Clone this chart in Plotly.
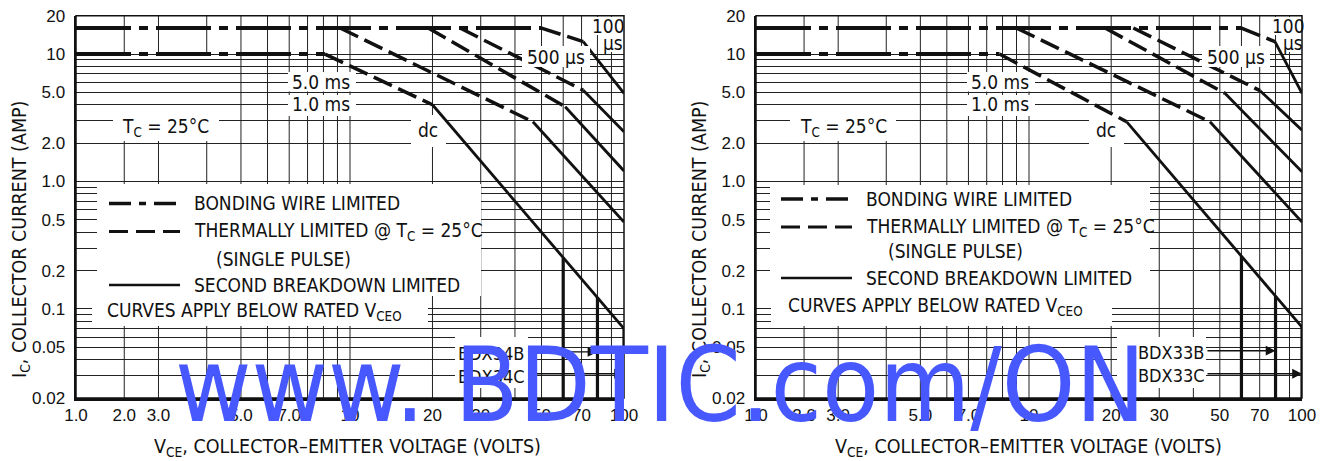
import math
import plotly.graph_objects as go

# ------------------------------------------------------------------ data
# V_CE in volts, I_C in amps.  Curve order: dc, 5.0 ms, 1.0 ms, 500 us, 100 us
CURVE_LABELS = ["dc", "5.0 ms", "1.0 ms", "500 µs", "100 µs"]

# Left chart (BDX34B / BDX34C)
L_BOND_V = [[1.0, 8.1], [1.0, 50.0]]
L_BOND_I = [[10.0, 10.0], [16.0, 16.0]]
L_THERM_V = [[8.1, 20.0], [9.2, 46.5], [19.3, 61.0], [25.2, 71.0], [50.0, 71.0]]
L_THERM_I = [[10.0, 4.0], [16.0, 2.94], [16.0, 3.86], [16.0, 5.2], [16.0, 12.5]]
L_SB_V = [[20.0, 100.0], [46.5, 100.0], [61.0, 100.0], [71.0, 100.0], [71.0, 100.0]]
L_SB_I = [[4.0, 0.07], [2.94, 0.48], [3.86, 1.21], [5.2, 2.46], [12.5, 4.92]]
L_VCEO_V = [60.0, 80.0, 100.0]
L_VCEO_TOP = [0.25, 0.124, 0.07]

# Right chart (BDX33B / BDX33C)
R_BOND_V = [[1.0, 7.8], [1.0, 60.0]]
R_BOND_I = [[10.0, 10.0], [16.0, 16.0]]
R_THERM_V = [[7.8, 22.8], [9.0, 46.0], [19.0, 52.2], [24.1, 70.2], [60.0, 79.6]]
R_THERM_I = [[10.0, 2.94], [16.0, 2.94], [16.0, 4.92], [16.0, 5.16], [16.0, 12.5]]
R_SB_V = [[22.8, 100.0], [46.0, 100.0], [52.2, 100.0], [70.2, 100.0], [79.6, 100.0]]
R_SB_I = [[2.94, 0.072], [2.94, 0.48], [4.92, 1.19], [5.16, 2.53], [12.5, 4.92]]
R_VCEO_V = [60.0, 80.0, 100.0]
R_VCEO_TOP = [0.26, 0.126, 0.072]
VCEO_FLOOR = 0.02

L_PARTS = ["BDX34B", "BDX34C"]
R_PARTS = ["BDX33B", "BDX33C"]
PART_VCEO = [80.0, 100.0]
L_PART_ARROW_I = [0.046, 0.031]
R_PART_ARROW_I = [0.047, 0.031]

X_TICK_VALS = [1, 1.5, 2, 4, 6, 10, 20, 30, 50, 70, 100]
X_TICK_TEXT = ["1.0", "2.0", "3.0", "5.0", "7.0", "10", "20", "30", "50", "70", "100"]
X_GRID = [1.5, 2, 3, 4, 5, 6, 7, 8, 9, 10, 20, 30, 40, 50, 60, 70, 80, 90]
X_GRID_BROKEN = [1.5, 2, 3]          # these stop between ~2.5 A and 10 A
Y_TICK_VALS = [0.02, 0.05, 0.1, 0.2, 0.5, 1, 2, 5, 10, 20]
Y_TICK_TEXT = ["0.02", "0.05", "0.1", "0.2", "0.5", "1.0", "2.0", "5.0", "10", "20"]
Y_GRID_MINOR = [0.03, 0.04, 0.06, 0.07, 0.08, 0.09, 0.3, 0.4, 0.6, 0.7, 0.8, 0.9,
                3, 4, 6, 7, 8, 9]

# ------------------------------------------------------------------ geometry / style
W, H = 1327, 461
PLOT_X = {1: (76.0, 624.0), 2: (756.0, 1302.0)}
PLOT_Y = (15.7, 398.0)
Y_LOG_MIN, Y_DECADES = math.log10(0.02), 3.0

BLACK = "#111111"
GRID = "#222222"
WM_BLUE = "#4758ff"
TEXT_FONT = "DejaVu Sans Condensed, Liberation Sans Narrow, Arial Narrow, sans-serif"
TICK_FONT = "Liberation Sans, Arial, Helvetica, sans-serif"

DASHDOT = "55px,8px,9px,8px"
DASHED = "20px,7px"


def paper_x(x):
    return x / W


def paper_y(y):
    return 1 - y / H


def dom_x(x, k):
    a, b = PLOT_X[k]
    return (x - a) / (b - a)


def dom_y(y):
    return (PLOT_Y[1] - y) / (PLOT_Y[1] - PLOT_Y[0])


def data_x(x, k):
    return 10 ** (2.0 * dom_x(x, k))


def data_y(y):
    return 10 ** (Y_LOG_MIN + Y_DECADES * dom_y(y))


def x_px(v, k):
    a, b = PLOT_X[k]
    return a + (b - a) * math.log10(v) / 2.0


fig = go.Figure()

panels = [
    (1, L_BOND_V, L_BOND_I, L_THERM_V, L_THERM_I, L_SB_V, L_SB_I, L_VCEO_V, L_VCEO_TOP),
    (2, R_BOND_V, R_BOND_I, R_THERM_V, R_THERM_I, R_SB_V, R_SB_I, R_VCEO_V, R_VCEO_TOP),
]

for k, bv, bi, tv, ti, sv, si, vv, vt in panels:
    xa = "x" if k == 1 else "x2"
    ya = "y" if k == 1 else "y2"
    common = dict(mode="lines", xaxis=xa, yaxis=ya, hoverinfo="skip", showlegend=False)
    for v, i in zip(bv, bi):
        fig.add_trace(go.Scatter(x=v, y=i, line=dict(color=BLACK, width=4, dash=DASHDOT), **common))
    for v, i in zip(tv, ti):
        fig.add_trace(go.Scatter(x=v, y=i, line=dict(color=BLACK, width=3.5, dash=DASHED), **common))
    for v, i in zip(sv, si):
        fig.add_trace(go.Scatter(x=v, y=i, line=dict(color=BLACK, width=2.8), **common))
    for v, top in zip(vv, vt):
        fig.add_trace(go.Scatter(x=[v, v], y=[top, VCEO_FLOOR],
                                 line=dict(color=BLACK, width=3.2), **common))


def xaxis_cfg(k):
    a, b = PLOT_X[k]
    return dict(
        type="log", range=[0, 2], domain=[a / W, b / W], anchor="y" if k == 1 else "y2",
        tickmode="array", tickvals=X_TICK_VALS, ticktext=X_TICK_TEXT,
        showgrid=False,
        showline=True, linecolor=BLACK, linewidth=2.5, mirror=False,
        ticks="", tickfont=dict(family=TICK_FONT, size=17, color=BLACK),
        ticklabelstandoff=0, zeroline=False, automargin=False, fixedrange=True,
    )


def yaxis_cfg(k):
    return dict(
        type="log", range=[Y_LOG_MIN, Y_LOG_MIN + Y_DECADES],
        domain=[1 - PLOT_Y[1] / H, 1 - PLOT_Y[0] / H], anchor="x" if k == 1 else "x2",
        tickmode="array", tickvals=Y_TICK_VALS, ticktext=Y_TICK_TEXT,
        showgrid=True, gridcolor=GRID, gridwidth=1,
        minor=dict(tickmode="array", tickvals=Y_GRID_MINOR, showgrid=True,
                   gridcolor=GRID, gridwidth=1, ticks=""),
        showline=True, linecolor=BLACK, linewidth=2.5, mirror=False,
        ticks="", tickfont=dict(family=TICK_FONT, size=17, color=BLACK),
        ticklabelstandoff=5, zeroline=False, automargin=False, fixedrange=True,
    )


shapes = []
annotations = []

# vertical grid lines (drawn as shapes so that the datasheet's broken lines can be kept)
for k in (1, 2):
    xr = "x" if k == 1 else "x2"
    yr = "y" if k == 1 else "y2"
    for v in X_GRID:
        segs = [(0.02, 2.5), (10, 20)] if v in X_GRID_BROKEN else [(0.02, 20)]
        for y0, y1 in segs:
            shapes.append(dict(type="line", xref=xr, yref=yr, layer="between",
                               x0=v, x1=v, y0=y0, y1=y1, line=dict(color=GRID, width=1)))

# white label / legend boxes (pixel rectangles: x0, y0, x1, y1), per panel
BOXES = {
    1: [(97, 184, 481, 296), (92, 296, 428, 326), (113, 117, 219, 141),
        (288, 72, 356, 91.5), (288, 95, 356, 116), (411, 115, 446, 147),
        (455, 337, 528, 388), (591, 17, 623, 35), (601, 35, 623, 52)],
    2: [(770, 185, 1150, 288), (771, 288, 1112, 326), (790, 117, 896, 141),
        (967, 72, 1035, 91.5), (967, 95, 1035, 116), (1089, 115, 1124, 147),
        (1117, 337, 1206, 388), (1275, 17, 1301, 35), (1282, 35, 1301, 52)],
}
BOX_ABOVE = {1: (522, 46, 590, 67), 2: (1202, 46, 1270, 67)}

for k in (1, 2):
    xr = "x" if k == 1 else "x2"
    yr = "y" if k == 1 else "y2"
    for (x0, y0, x1, y1) in BOXES[k]:
        shapes.append(dict(type="rect", xref=xr, yref=yr, layer="between",
                           x0=data_x(x0, k), x1=data_x(x1, k), y0=data_y(y1), y1=data_y(y0),
                           fillcolor="white", line=dict(width=0)))
    x0, y0, x1, y1 = BOX_ABOVE[k]
    shapes.append(dict(type="rect", xref=xr, yref=yr, layer="above",
                       x0=data_x(x0, k), x1=data_x(x1, k), y0=data_y(y1), y1=data_y(y0),
                       fillcolor="white", line=dict(width=0)))
    # thin top / right frame
    a, b = PLOT_X[k]
    shapes.append(dict(type="rect", xref="paper", yref="paper", layer="above",
                       x0=paper_x(a), x1=paper_x(b), y0=paper_y(PLOT_Y[1]), y1=paper_y(PLOT_Y[0]),
                       line=dict(color=BLACK, width=1.5), fillcolor="rgba(0,0,0,0)"))


def text(t, x, y, size=19, xanchor="center", family=TEXT_FONT, color=BLACK, angle=0):
    annotations.append(dict(text=t, x=paper_x(x), y=paper_y(y), xref="paper", yref="paper",
                            xanchor=xanchor, yanchor="middle", showarrow=False,
                            textangle=angle, font=dict(family=family, size=size, color=color)))


LEGEND_TEXT = ["BONDING WIRE LIMITED", "THERMALLY LIMITED @ T<sub>C</sub> = 25°C",
               "(SINGLE PULSE)", "SECOND BREAKDOWN LIMITED",
               "CURVES APPLY BELOW RATED V<sub>CEO</sub>"]

layout_pos = {
    1: dict(legend_x=[192, 192, 214, 192, 105], legend_y=[203.5, 231.5, 258.5, 285, 311.5],
            sample_x=(109, 180), sample_y=[203.5, 231.5, 285],
            tc=(165, 128), ms5=(321, 82), ms1=(321, 104.5), dc=(428, 130),
            us500=(556, 57), us100=(608, 26.5), us=(613, 43.5),
            part_x=491, part_y=[353, 376], arrow_tail=530,
            ytitle=(21, 240), xtitle=(347, 447)),
    2: dict(legend_x=[864, 864, 886, 864, 786], legend_y=[199, 227, 251.5, 278, 306],
            sample_x=(781, 852), sample_y=[199, 227, 278],
            tc=(843, 128), ms5=(1000, 82), ms1=(1000, 104.5), dc=(1106, 130),
            us500=(1236, 57), us100=(1288, 26.5), us=(1293, 43.5),
            part_x=1171, part_y=[352, 375], arrow_tail=1206,
            ytitle=(701, 240), xtitle=(1028, 447)),
}

for k in (1, 2):
    p = layout_pos[k]
    for t, x, y in zip(LEGEND_TEXT, p["legend_x"], p["legend_y"]):
        text(t, x, y, xanchor="left")
    sx0, sx1 = p["sample_x"]
    for dash, wdt, y in zip(["22px,8px,7px,8px", "19px,8px", "solid"], [3.5, 3.2, 2.6], p["sample_y"]):
        shapes.append(dict(type="line", xref="paper", yref="paper", layer="above",
                           x0=paper_x(sx0), x1=paper_x(sx1), y0=paper_y(y), y1=paper_y(y),
                           line=dict(color=BLACK, width=wdt, dash=dash)))
    text("T<sub>C</sub> = 25°C", *p["tc"])
    text(CURVE_LABELS[1], *p["ms5"])
    text(CURVE_LABELS[2], *p["ms1"])
    text(CURVE_LABELS[0], *p["dc"])
    text(CURVE_LABELS[3], *p["us500"])
    text("100", *p["us100"])
    text("µs", *p["us"])
    parts = L_PARTS if k == 1 else R_PARTS
    arrow_i = L_PART_ARROW_I if k == 1 else R_PART_ARROW_I
    for name, py_, vceo, ai in zip(parts, p["part_y"], PART_VCEO, arrow_i):
        text(name, p["part_x"], py_, size=18)
        annotations.append(dict(
            text="", xref="x" if k == 1 else "x2", yref="y" if k == 1 else "y2",
            x=math.log10(vceo), y=math.log10(ai), ax=p["arrow_tail"] - x_px(vceo, k), ay=0,
            showarrow=True, arrowhead=2, arrowsize=1.4, arrowwidth=1.4, arrowcolor=BLACK,
            standoff=0))
    text("I<sub>C</sub>, COLLECTOR CURRENT (AMP)", *p["ytitle"], size=19.5, angle=-90)
    text("V<sub>CE</sub>, COLLECTOR–EMITTER VOLTAGE (VOLTS)", *p["xtitle"], size=19.5)

# watermark
text("www. BDTIC.com/ON", 660, 385, size=104, color=WM_BLUE)

fig.update_layout(
    width=W, height=H, autosize=False, template="none",
    margin=dict(l=0, r=0, t=0, b=0, pad=0),
    paper_bgcolor="white", plot_bgcolor="white",
    xaxis=xaxis_cfg(1), yaxis=yaxis_cfg(1), xaxis2=xaxis_cfg(2), yaxis2=yaxis_cfg(2),
    shapes=shapes, annotations=annotations, showlegend=False,
)

fig.write_html("out.html", config={"displayModeBar": False, "staticPlot": True},
               post_script="document.body.style.margin='0';")
